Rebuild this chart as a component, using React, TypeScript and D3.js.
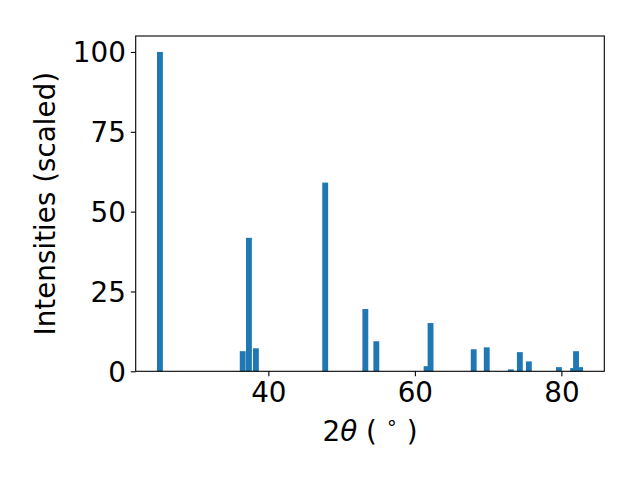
import React, { useEffect, useRef } from "react";
import * as d3 from "d3";

// peak positions (2theta, deg) and scaled intensities
const twoTheta = [
  25.2, 36.5, 37.35, 38.3, 47.76, 53.24, 54.74, 61.6, 62.14, 68.03, 69.81,
  73.1, 74.33, 75.56, 79.67, 81.6, 82.0, 82.55,
];
const intensity = [
  100, 6.3, 41.8, 7.2, 59.1, 19.5, 9.4, 1.6, 15.1, 6.9, 7.5, 0.6, 6.0, 3.1,
  1.3, 1.0, 6.3, 1.3,
];
const xTicks = [40, 60, 80];
const yTicks = [0, 25, 50, 75, 100];

const App: React.FC = () => {
  const svgRef = useRef<SVGSVGElement | null>(null);

  useEffect(() => {
    if (!svgRef.current) return;

    const width = 640;
    const height = 480;
    const margin = { top: 36, right: 35.7, bottom: 108.7, left: 135.7 };
    const barWidth = 0.8;
    const font = "'DejaVu Sans', sans-serif";
    const fontSize = 27.8;

    d3.select(svgRef.current).selectAll("*").remove();
    const svg = d3
      .select(svgRef.current)
      .attr("width", width)
      .attr("height", height);

    // matplotlib style 5% margins on x
    const lo = d3.min(twoTheta)! - barWidth / 2;
    const hi = d3.max(twoTheta)! + barWidth / 2;
    const pad = (hi - lo) * 0.05;

    const xScale = d3
      .scaleLinear()
      .domain([lo - pad, hi + pad])
      .range([margin.left, width - margin.right]);

    const yScale = d3
      .scaleLinear()
      .domain([0, d3.max(intensity)! * 1.05])
      .range([height - margin.bottom, margin.top]);

    const data = twoTheta.map((t, i) => ({ t, v: intensity[i] }));

    svg
      .selectAll(".bar")
      .data(data)
      .enter()
      .append("rect")
      .attr("x", (d) => xScale(d.t - barWidth / 2))
      .attr("y", (d) => yScale(d.v))
      .attr("width", xScale(barWidth) - xScale(0))
      .attr("height", (d) => yScale(0) - yScale(d.v))
      .attr("fill", "#1f77b4");

    const xAxis = d3
      .axisBottom(xScale)
      .tickValues(xTicks)
      .tickSizeOuter(0)
      .tickSizeInner(4.9)
      .tickPadding(4.9);
    const yAxis = d3
      .axisLeft(yScale)
      .tickValues(yTicks)
      .tickSizeOuter(0)
      .tickSizeInner(4.9)
      .tickPadding(4.9);

    const gx = svg
      .append("g")
      .attr("transform", `translate(0, ${height - margin.bottom})`)
      .call(xAxis);
    const gy = svg
      .append("g")
      .attr("transform", `translate(${margin.left}, 0)`)
      .call(yAxis);

    [gx, gy].forEach((g) => {
      g.select(".domain").remove();
      g.selectAll("line").attr("stroke", "black").attr("stroke-width", 1.1);
      g.selectAll("text")
        .attr("fill", "black")
        .style("font-family", font)
        .style("font-size", `${fontSize}px`);
    });
    gx.selectAll("text").attr("dy", "0.76em");
    gy.selectAll("text").attr("dy", "0.36em");

    // frame
    svg
      .append("rect")
      .attr("x", margin.left)
      .attr("y", margin.top)
      .attr("width", width - margin.left - margin.right)
      .attr("height", height - margin.top - margin.bottom)
      .attr("fill", "none")
      .attr("stroke", "black")
      .attr("stroke-width", 1.1);

    // x label: 2θ ( ° )
    const xl = svg
      .append("text")
      .attr("x", (margin.left + width - margin.right) / 2)
      .attr("y", 440.5)
      .attr("text-anchor", "middle")
      .style("font-family", font)
      .style("font-size", `${fontSize}px`);
    xl.append("tspan").text("2");
    xl.append("tspan").attr("font-style", "italic").text("θ");
    xl.append("tspan").text(" ( ");
    xl.append("tspan")
      .attr("dy", -12)
      .style("font-size", `${fontSize * 0.7}px`)
      .text("∘");
    xl.append("tspan").attr("dy", 12).text(" )");

    // y label
    svg
      .append("text")
      .attr(
        "transform",
        `translate(55, ${(margin.top + height - margin.bottom) / 2}) rotate(-90)`
      )
      .attr("text-anchor", "middle")
      .style("font-family", font)
      .style("font-size", `${fontSize}px`)
      .text("Intensities (scaled)");
  }, []);

  return (
    <div>
      <svg ref={svgRef} style={{ display: "block", margin: -8 }}></svg>
    </div>
  );
};

export default App;
